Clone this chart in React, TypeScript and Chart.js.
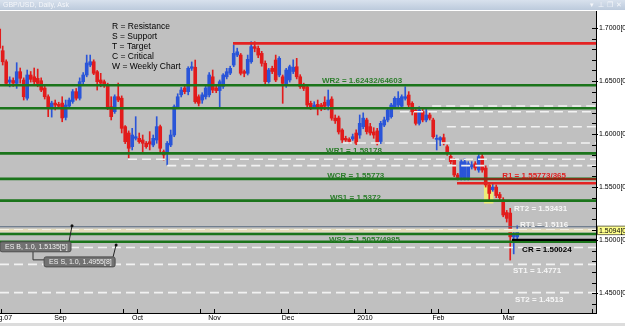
import React, { useEffect, useRef } from 'react';
import { Chart, registerables } from 'chart.js';

Chart.register(...registerables);

// ---------- candle data (GBP/USD daily, index -1 .. 147) ----------
const FIRST_INDEX = -1;
const opens = [
  1.6990, 1.6786, 1.6682, 1.6490, 1.6505, 1.6478, 1.6588, 1.6510, 1.6338, 1.6557,
  1.6540, 1.6525, 1.6503, 1.6434, 1.6352, 1.6243, 1.6292, 1.6280, 1.6292, 1.6157,
  1.6264, 1.6307, 1.6400, 1.6338, 1.6494, 1.6557, 1.6651, 1.6682, 1.6588, 1.6510,
  1.6494, 1.6462, 1.6258, 1.6211, 1.6352, 1.6338, 1.6070, 1.6010, 1.5881, 1.5960,
  1.5960, 1.5944, 1.5913, 1.5928, 1.5897, 1.5944, 1.6070, 1.5834, 1.5818, 1.5897,
  1.5991, 1.6258, 1.6370, 1.6434, 1.6400, 1.6620, 1.6630, 1.6352, 1.6321, 1.6352,
  1.6370, 1.6540, 1.6434, 1.6410, 1.6450, 1.6540, 1.6575, 1.6651, 1.6745, 1.6745,
  1.6590, 1.6573, 1.6682, 1.6824, 1.6808, 1.6761, 1.6667, 1.6494, 1.6620, 1.6698,
  1.6557, 1.6540, 1.6462, 1.6510, 1.6590, 1.6635, 1.6540, 1.6462, 1.6446, 1.6290,
  1.6258, 1.6280, 1.6274, 1.6300, 1.6270, 1.6330, 1.6150, 1.6152, 1.6038, 1.5960,
  1.5950, 1.5955, 1.6010, 1.5991, 1.6070, 1.6133, 1.6070, 1.6020, 1.6030, 1.5930,
  1.6085, 1.6133, 1.6164, 1.6258, 1.6274, 1.6262, 1.6337, 1.6368, 1.6290, 1.6227,
  1.6101, 1.6211, 1.6133, 1.6180, 1.6133, 1.5950, 1.5944, 1.5966, 1.5881, 1.5790,
  1.5755, 1.5614, 1.5590, 1.5583, 1.5590, 1.5690, 1.5720, 1.5661, 1.5787, 1.5680,
  1.5520, 1.5475, 1.5500, 1.5430, 1.5379, 1.5260, 1.5255, 1.5030, 1.5030,
];
const highs = [
  1.7010, 1.6830, 1.6700, 1.6540, 1.6530, 1.6673, 1.6623, 1.6530, 1.6604, 1.6590,
  1.6623, 1.6613, 1.6530, 1.6450, 1.6370, 1.6310, 1.6321, 1.6300, 1.6352, 1.6321,
  1.6340, 1.6420, 1.6430, 1.6530, 1.6580, 1.6745, 1.6745, 1.6700, 1.6600, 1.6573,
  1.6510, 1.6480, 1.6352, 1.6370, 1.6481, 1.6360, 1.6080, 1.6030, 1.6054, 1.6164,
  1.6010, 1.5991, 1.5930, 1.6023, 1.5991, 1.6164, 1.6085, 1.5850, 1.5930, 1.6038,
  1.6275, 1.6380, 1.6440, 1.6460, 1.6635, 1.6680, 1.6698, 1.6370, 1.6390, 1.6460,
  1.6580, 1.6604, 1.6450, 1.6510, 1.6570, 1.6620, 1.6640, 1.6840, 1.6810, 1.6760,
  1.6604, 1.6745, 1.6871, 1.6871, 1.6830, 1.6780, 1.6690, 1.6620, 1.6640, 1.6745,
  1.6730, 1.6557, 1.6620, 1.6650, 1.6700, 1.6714, 1.6560, 1.6480, 1.6460, 1.6310,
  1.6305, 1.6321, 1.6290, 1.6352, 1.6415, 1.6352, 1.6180, 1.6170, 1.6050, 1.5980,
  1.5965, 1.6000, 1.6040, 1.6180, 1.6200, 1.6150, 1.6101, 1.6060, 1.6054, 1.6120,
  1.6160, 1.6250, 1.6290, 1.6352, 1.6400, 1.6370, 1.6446, 1.6400, 1.6305, 1.6240,
  1.6258, 1.6240, 1.6240, 1.6200, 1.6150, 1.5991, 1.5975, 1.6000, 1.5897, 1.5810,
  1.5770, 1.5630, 1.5755, 1.5770, 1.5740, 1.5740, 1.5740, 1.5810, 1.5810, 1.5700,
  1.5540, 1.5540, 1.5520, 1.5450, 1.5400, 1.5280, 1.5300, 1.5080, 1.5135,
];
const lows = [
  1.6774, 1.6651, 1.6462, 1.6445, 1.6450, 1.6431, 1.6480, 1.6321, 1.6321, 1.6490,
  1.6462, 1.6446, 1.6400, 1.6330, 1.6164, 1.6160, 1.6227, 1.6240, 1.6116, 1.6133,
  1.6240, 1.6290, 1.6320, 1.6321, 1.6470, 1.6540, 1.6635, 1.6560, 1.6415, 1.6446,
  1.6440, 1.6230, 1.6133, 1.6195, 1.6305, 1.6010, 1.5910, 1.5774, 1.5850, 1.5944,
  1.5913, 1.5821, 1.5866, 1.5850, 1.5880, 1.5913, 1.5834, 1.5755, 1.5708, 1.5881,
  1.5975, 1.6240, 1.6350, 1.6380, 1.6370, 1.6600, 1.6290, 1.6265, 1.6290, 1.6330,
  1.6350, 1.6390, 1.6390, 1.6258, 1.6430, 1.6520, 1.6560, 1.6635, 1.6730, 1.6557,
  1.6540, 1.6557, 1.6667, 1.6776, 1.6720, 1.6640, 1.6470, 1.6480, 1.6570, 1.6494,
  1.6540, 1.6290, 1.6440, 1.6490, 1.6570, 1.6520, 1.6430, 1.6410, 1.6258, 1.6230,
  1.6240, 1.6180, 1.6220, 1.6230, 1.6227, 1.6130, 1.6100, 1.6000, 1.5920, 1.5930,
  1.5910, 1.5940, 1.5900, 1.5960, 1.6050, 1.6000, 1.5990, 1.5960, 1.5897, 1.5910,
  1.6070, 1.6115, 1.6150, 1.6240, 1.6258, 1.6240, 1.6320, 1.6258, 1.6180, 1.6085,
  1.6085, 1.6115, 1.6115, 1.6133, 1.5960, 1.5850, 1.5890, 1.5897, 1.5800, 1.5720,
  1.5598, 1.5567, 1.5567, 1.5567, 1.5567, 1.5670, 1.5660, 1.5640, 1.5640, 1.5500,
  1.5380, 1.5460, 1.5400, 1.5380, 1.5220, 1.5170, 1.4812, 1.4870, 1.5000,
];
const closes = [
  1.6811, 1.6682, 1.6478, 1.6510, 1.6480, 1.6588, 1.6526, 1.6352, 1.6557, 1.6516,
  1.6493, 1.6478, 1.6415, 1.6352, 1.6243, 1.6292, 1.6274, 1.6262, 1.6152, 1.6274,
  1.6321, 1.6400, 1.6338, 1.6494, 1.6557, 1.6670, 1.6682, 1.6573, 1.6494, 1.6480,
  1.6462, 1.6243, 1.6164, 1.6352, 1.6321, 1.6054, 1.5928, 1.5866, 1.5991, 1.5975,
  1.5928, 1.5913, 1.5881, 1.5906, 1.5960, 1.6070, 1.5866, 1.5803, 1.5913, 1.5991,
  1.6258, 1.6352, 1.6415, 1.6400, 1.6620, 1.6635, 1.6305, 1.6290, 1.6370, 1.6434,
  1.6557, 1.6415, 1.6410, 1.6494, 1.6557, 1.6588, 1.6620, 1.6761, 1.6776, 1.6573,
  1.6573, 1.6705, 1.6824, 1.6808, 1.6745, 1.6667, 1.6494, 1.6604, 1.6590, 1.6510,
  1.6714, 1.6478, 1.6604, 1.6635, 1.6630, 1.6540, 1.6446, 1.6430, 1.6274, 1.6258,
  1.6274, 1.6250, 1.6243, 1.6262, 1.6321, 1.6150, 1.6125, 1.6020, 1.5944, 1.5944,
  1.5930, 1.5975, 1.5913, 1.6101, 1.6150, 1.6023, 1.6010, 1.5991, 1.5913, 1.6101,
  1.6133, 1.6227, 1.6274, 1.6337, 1.6337, 1.6352, 1.6352, 1.6274, 1.6211, 1.6101,
  1.6227, 1.6133, 1.6180, 1.6150, 1.5975, 1.5960, 1.5966, 1.5913, 1.5818, 1.5740,
  1.5614, 1.5590, 1.5740, 1.5740, 1.5720, 1.5710, 1.5680, 1.5787, 1.5661, 1.5520,
  1.5440, 1.5500, 1.5420, 1.5400, 1.5237, 1.5205, 1.5031, 1.5045, 1.5100,
];

// ---------- axes ----------
const X_MIN = -0.771;
const X_MAX = 169.51;
const Y_MIN = 1.43126;
const Y_MAX = 1.71605;
const monthTickIndex = [-0.5, 16.5, 38.5, 60.5, 81.5, 103.5, 124.5, 144.5];
const monthTickLabels = ['Aug.07', 'Sep', 'Oct', 'Nov', 'Dec', '2010', 'Feb', 'Mar'];
const extraTickIndex = [34.5, 56.5, 79.5, 100.5, 122.5, 142.5, 168.5];

// ---------- drawn levels ----------
const greenLevels = [1.64603, 1.62432, 1.58178, 1.55773, 1.5372, 1.5057, 1.4985];
const whiteDashLevels = [1.6264, 1.6211, 1.6069, 1.5916, 1.5762, 1.5702, 1.4930, 1.4771, 1.4505];
const whiteDashStart = [122.7, 113.5, 126.9, 97.2, 35.8, 47.0, X_MIN, X_MIN, X_MIN];
const redLevels = [1.6855, 1.55365];
const redLevelStart = [65.8, 129.8];
const r1UpperLevel = 1.55773;
const r1UpperStart = 133.5;
const crLevel = 1.50024;
const crStart = 145.5;
const currentPrice = 1.5094;
const esOrderLevel = 1.5126;
const highlightIndex = [137.5, 140.2];
const highlightPrice = [1.5345, 1.5538];

// ---------- annotations ----------
const noteTexts = [
  'WR2 = 1.62432/64603', 'WR1 = 1.58178', 'WCR = 1.55773', 'WS1 = 1.5372', 'WS2 = 1.5057/4985',
  'R1 = 1.55773/365', 'RT2 = 1.53431', 'RT1 = 1.5116', 'CR = 1.50024', 'ST1 = 1.4771', 'ST2 = 1.4513',
];
const noteIndex = [91.2, 92.4, 92.7, 93.5, 93.2, 142.7, 146.1, 147.8, 148.4, 145.8, 146.4];
const notePrice = [1.6479, 1.5821, 1.5586, 1.5378, 1.4985, 1.5581, 1.5270, 1.5126, 1.4885, 1.4690, 1.4416];
const noteKind = ['g', 'g', 'g', 'g', 'g', 'r', 'w', 'w', 'k', 'w', 'w'];

const legendLines = ['R = Resistance', 'S = Support', 'T = Target', 'C = Critical', 'W = Weekly Chart'];

const esTexts = ['ES B, 1.0, 1.5135[5]', 'ES S, 1.0, 1.4955[8]'];
const esPrice = [1.5135, 1.4955];
const esIndex = [19.8, 32.4];

const BULL = '#2a55d8';
const BEAR = '#e21c1c';

const FONT = '"Liberation Sans", Arial, sans-serif';

const mtPlugin = {
  id: 'mtDecor',
  beforeDraw(chart: any) {
    const { ctx, chartArea: a, width, height } = chart;
    ctx.save();
    ctx.fillStyle = '#ffffff';
    ctx.fillRect(0, 0, width, height);
    ctx.fillStyle = '#c0c0c0';
    ctx.fillRect(a.left, a.top, a.right - a.left, a.bottom - a.top);
    // title bar
    const g = ctx.createLinearGradient(0, 0, 0, 10);
    g.addColorStop(0, '#d8e1ed');
    g.addColorStop(1, '#bccadc');
    ctx.fillStyle = g;
    ctx.fillRect(0, 0, width, 10);
    ctx.fillStyle = '#f4f6fa';
    ctx.font = `7px ${FONT}`;
    ctx.textBaseline = 'middle';
    ctx.textAlign = 'left';
    ctx.fillText('GBP/USD, Daily, Ask', 3, 5.5);
    ctx.font = `7px "DejaVu Sans"`;
    ctx.fillText('▾', 590, 5.5);
    ctx.fillText('⊥', 598, 5.5);
    ctx.fillText('❐', 607, 5.5);
    ctx.fillText('✕', 616, 5.5);
    // bottom strip
    ctx.fillStyle = '#dcdcdc';
    ctx.fillRect(0, 323, width, 3);
    ctx.restore();
  },
  beforeDatasetsDraw(chart: any) {
    const { ctx, scales } = chart;
    const xs = scales.x, ys = scales.y;
    ctx.save();
    const x0 = xs.getPixelForValue(highlightIndex[0]);
    const x1 = xs.getPixelForValue(highlightIndex[1]);
    const y0 = ys.getPixelForValue(highlightPrice[1]);
    const y1 = ys.getPixelForValue(highlightPrice[0]);
    ctx.fillStyle = '#ecec78';
    ctx.fillRect(x0, y0, x1 - x0, y1 - y0);
    ctx.restore();
  },
  afterDatasetsDraw(chart: any) {
    const { ctx, chartArea: a, scales } = chart;
    const xs = scales.x, ys = scales.y;
    const X = (i: number) => xs.getPixelForValue(i);
    const Y = (p: number) => ys.getPixelForValue(p);
    ctx.save();
    ctx.beginPath();
    ctx.rect(a.left, a.top, a.right - a.left, a.bottom - a.top);
    ctx.clip();
    const hline = (p: number, start: number | null, color: string, w: number, dash: number[]) => {
      const y = Y(p);
      const xa = start == null ? a.left : Math.max(a.left, X(start));
      ctx.beginPath();
      ctx.setLineDash(dash);
      ctx.strokeStyle = color;
      ctx.lineWidth = w;
      ctx.moveTo(xa, y);
      ctx.lineTo(a.right, y);
      ctx.stroke();
    };
    whiteDashLevels.forEach((p, k) => hline(p, whiteDashStart[k], '#f2f2f2', 1.6, [9, 5]));
    hline(currentPrice - 0.0004, null, '#e6ddbb', 3.5, []);
    hline(currentPrice + 0.0006, null, 'rgba(255,255,255,0.6)', 1, [9, 5]);
    hline(esOrderLevel, null, '#5a6b80', 1, []);
    greenLevels.forEach((p) => hline(p, null, '#1b741b', 2.6, []));
    redLevels.forEach((p, k) => hline(p, redLevelStart[k], '#e42222', 2.6, []));
    hline(r1UpperLevel, r1UpperStart, '#8a2a14', 2, []);
    hline(crLevel, crStart, '#000000', 2.2, []);
    ctx.setLineDash([]);

    // notes
    ctx.font = `bold 8px ${FONT}`;
    ctx.textAlign = 'left';
    ctx.textBaseline = 'alphabetic';
    noteTexts.forEach((t, k) => {
      const kind = noteKind[k];
      ctx.fillStyle = kind === 'g' ? '#2b7d2b' : kind === 'r' ? '#e02020' : kind === 'w' ? '#f6f6f6' : '#000000';
      ctx.fillText(t, X(noteIndex[k]), Y(notePrice[k]));
    });

    // legend text
    ctx.font = `8.5px ${FONT}`;
    ctx.fillStyle = '#000000';
    ctx.textBaseline = 'middle';
    legendLines.forEach((t, k) => ctx.fillText(t, 112, 27 + k * 10));

    // ES order boxes
    const boxes: any[] = [];
    esTexts.forEach((t, k) => {
      const ax = X(esIndex[k]);
      const ay = Y(esPrice[k]);
      const bw = 71, bh = 10;
      const right = ax - 1;
      const top = ay + (k === 0 ? 16 : 12);
      const left = right - bw;
      boxes.push({ left, top, right, bottom: top + bh });
      ctx.strokeStyle = '#222';
      ctx.lineWidth = 1;
      ctx.beginPath();
      ctx.moveTo(right - 2, top);
      ctx.lineTo(ax, ay);
      ctx.stroke();
      ctx.fillStyle = '#111';
      ctx.beginPath();
      ctx.arc(ax, ay, 1.5, 0, Math.PI * 2);
      ctx.fill();
    });
    ctx.strokeStyle = '#333';
    ctx.beginPath();
    ctx.moveTo(boxes[0].left + 33, boxes[0].bottom);
    ctx.lineTo(boxes[0].left + 33, boxes[1].top + 3);
    ctx.lineTo(boxes[1].left, boxes[1].top + 3);
    ctx.stroke();
    esTexts.forEach((t, k) => {
      const b = boxes[k];
      ctx.fillStyle = '#727272';
      ctx.strokeStyle = '#4d4d4d';
      ctx.beginPath();
      ctx.roundRect(b.left, b.top, b.right - b.left, b.bottom - b.top, 2);
      ctx.fill();
      ctx.stroke();
      ctx.fillStyle = '#f2f2f2';
      ctx.font = `7px ${FONT}`;
      ctx.textBaseline = 'middle';
      ctx.fillText(t, b.left + 5, (b.top + b.bottom) / 2 + 0.5);
    });
    ctx.restore();
  },
  afterDraw(chart: any) {
    const { ctx, chartArea: a, scales, width } = chart;
    const xs = scales.x, ys = scales.y;
    ctx.save();
    ctx.strokeStyle = '#000';
    ctx.lineWidth = 1;
    ys.ticks.forEach((t: any) => {
      const y = Math.round(ys.getPixelForValue(t.value)) + 0.5;
      const major = Math.abs(t.value * 20 - Math.round(t.value * 20)) < 1e-6;
      ctx.beginPath();
      ctx.moveTo(a.right - 4, y);
      ctx.lineTo(a.right + (major ? 2 : 0), y);
      ctx.stroke();
    });
    [...monthTickIndex, ...extraTickIndex].forEach((i) => {
      const x = Math.round(xs.getPixelForValue(i)) + 0.5;
      if (x < a.left || x > a.right) return;
      ctx.beginPath();
      ctx.moveTo(x, a.bottom - 4);
      ctx.lineTo(x, a.bottom);
      ctx.stroke();
    });
    const py = ys.getPixelForValue(currentPrice);
    ctx.fillStyle = '#ffff8c';
    ctx.fillRect(a.right + 1, py - 4, width - a.right, 8.5);
    ctx.strokeStyle = '#707050';
    ctx.strokeRect(a.right + 1.5, py - 4, width - a.right, 8.5);
    ctx.fillStyle = '#000';
    ctx.font = `7px ${FONT}`;
    ctx.textBaseline = 'middle';
    ctx.textAlign = 'left';
    ctx.fillText(currentPrice.toFixed(4) + '[0]', a.right + 3, py + 0.5);
    ctx.restore();
  },
};

export default function App() {
  const ref = useRef<HTMLCanvasElement | null>(null);
  useEffect(() => {
    const canvas = ref.current;
    if (!canvas) return;
    const idx = opens.map((_, k) => k + FIRST_INDEX);
    const colors = opens.map((o, k) => (closes[k] >= o ? BULL : BEAR));
    const chart = new Chart(canvas, {
      type: 'bar',
      data: {
        datasets: [
          {
            label: 'wick',
            data: idx.map((i, k) => ({ x: i, y: [lows[k], highs[k]] })) as any,
            backgroundColor: colors,
            barThickness: 1,
            grouped: false,
            borderWidth: 0,
          },
          {
            label: 'body',
            data: idx.map((i, k) => ({ x: i, y: [Math.min(opens[k], closes[k]), Math.max(opens[k], closes[k])] })) as any,
            backgroundColor: colors,
            barThickness: 3,
            grouped: false,
            borderWidth: 0,
            minBarLength: 1,
          },
        ],
      },
      options: {
        animation: false,
        responsive: false,
        devicePixelRatio: 1,
        events: [],
        layout: { autoPadding: false, padding: { top: 11, left: 0, right: 0, bottom: 0 } },
        plugins: { legend: { display: false }, tooltip: { enabled: false } },
        scales: {
          x: {
            type: 'linear',
            position: 'bottom',
            offset: false,
            min: X_MIN,
            max: X_MAX,
            grid: { display: false, drawTicks: false },
            border: { display: true, color: '#000', width: 1 },
            afterBuildTicks: (s: any) => {
              s.ticks = monthTickIndex.map((v) => ({ value: v }));
            },
            afterFit: (s: any) => {
              s.height = 13;
              s.paddingLeft = 0;
              s.paddingRight = 0;
            },
            ticks: {
              autoSkip: false,
              maxRotation: 0,
              minRotation: 0,
              padding: 1,
              color: '#000',
              font: { size: 7, family: 'Liberation Sans' },
              callback: (_v: any, index: number) => monthTickLabels[index] ?? '',
            },
          },
          y: {
            type: 'linear',
            position: 'right',
            offset: false,
            min: Y_MIN,
            max: Y_MAX,
            grid: { display: false, drawTicks: false },
            border: { display: true, color: '#000', width: 1 },
            afterBuildTicks: (s: any) => {
              s.ticks = s.ticks.filter((t: any) => Math.abs(t.value * 100 - Math.round(t.value * 100)) < 1e-6);
            },
            afterFit: (s: any) => {
              s.width = 29;
              s.paddingTop = 0;
              s.paddingBottom = 0;
            },
            ticks: {
              stepSize: 0.01,
              autoSkip: false,
              padding: 3,
              color: '#000',
              font: { size: 7, family: 'Liberation Sans' },
              callback: (v: any) => {
                const n = Number(v);
                return Math.abs(n * 20 - Math.round(n * 20)) < 1e-6 ? n.toFixed(4) + '[0]' : '';
              },
            },
          },
        },
      },
      plugins: [mtPlugin],
    });
    return () => chart.destroy();
  }, []);
  return (
    <div style={{ position: 'fixed', left: 0, top: 0, width: 625, height: 326 }}>
      <canvas ref={ref} width={625} height={326} style={{ display: 'block', width: 625, height: 326 }} />
    </div>
  );
}
